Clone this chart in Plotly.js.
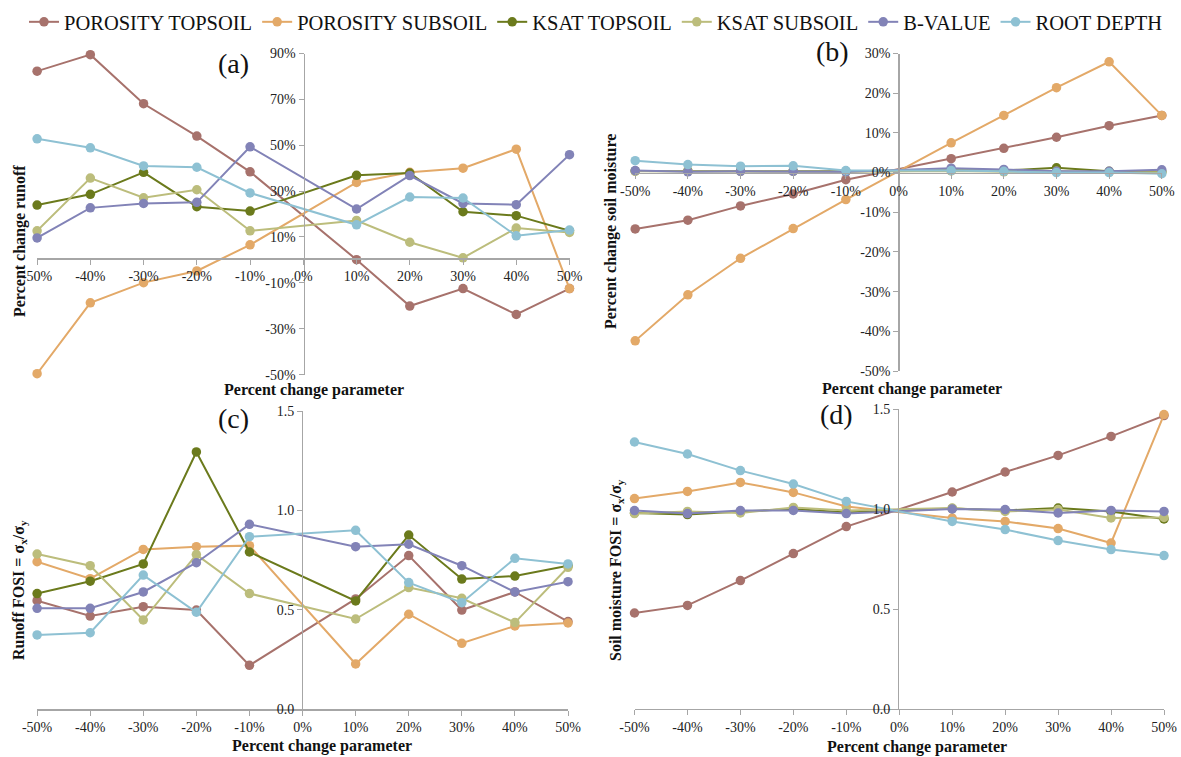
<!DOCTYPE html>
<html>
<head>
<meta charset="utf-8">
<script src="https://cdn.plot.ly/plotly-3.0.1.min.js"></script>
<style>html,body{margin:0;padding:0;background:#fff;}#chart{width:1181px;height:757px;}</style>
</head>
<body>
<div id="chart"></div>
<script>
// ---- data ----
const params = [-50, -40, -30, -20, -10, 10, 20, 30, 40, 50];
const seriesNames = ["POROSITY TOPSOIL", "POROSITY SUBSOIL", "KSAT TOPSOIL", "KSAT SUBSOIL", "B-VALUE", "ROOT DEPTH"];
const seriesColors = ["#A7726C", "#E3A968", "#6B7A1C", "#BCBD7C", "#8283B7", "#8EC1D3"];

// (a) percent change runoff
const runoffPorosityTop = [82.3, 89.5, 68.1, 54.0, 38.4, 0.1, -20.1, -12.5, -23.8, -12.5];
const runoffPorositySub = [-49.6, -18.7, -9.9, -4.8, 6.6, 33.8, 38.2, 40.0, 48.3, -12.5];
const runoffKsatTop = [23.9, 28.6, 38.2, 23.2, 21.3, 36.9, 37.9, 21.0, 19.3, 12.7];
const runoffKsatSub = [12.7, 35.7, 27.1, 30.6, 12.7, 17.2, 7.7, 0.9, 13.9, 12.0];
const runoffBValue = [9.6, 22.7, 24.6, 25.1, 49.3, 22.2, 36.8, 24.6, 24.1, 45.9];
const runoffRootDepth = [52.8, 48.9, 41.0, 40.4, 29.2, 15.3, 27.4, 27.0, 10.5, 13.0];

// (b) percent change soil moisture
const smPorosityTop = [-14.2, -12.0, -8.4, -5.4, -1.8, 3.5, 6.1, 8.9, 11.8, 14.4];
const smPorositySub = [-42.4, -30.8, -21.6, -14.1, -6.8, 7.5, 14.4, 21.4, 27.9, 14.4];
const smKsatTop = [0.4, 0.4, 0.4, 0.4, 0.3, 0.6, 0.5, 1.2, 0.3, 0.2];
const smKsatSub = [0.3, 0.3, 0.3, 0.3, 0.2, 0.4, 0.2, 0.3, 0.1, 0.1];
const smBValue = [0.5, 0.2, 0.3, 0.3, 0.2, 1.1, 0.8, 0.3, 0.3, 0.7];
const smRootDepth = [3.0, 2.0, 1.6, 1.7, 0.5, 0.5, 0.3, 0.0, 0.0, -0.3];

// (c) runoff FOSI
const rfPorosityTop = [0.546, 0.469, 0.516, 0.499, 0.221, 0.555, 0.773, 0.499, 0.590, 0.441];
const rfPorositySub = [0.742, 0.657, 0.804, 0.818, 0.823, 0.228, 0.478, 0.332, 0.419, 0.434];
const rfKsatTop = [0.582, 0.644, 0.731, 1.294, 0.791, 0.545, 0.876, 0.655, 0.670, 0.722];
const rfKsatSub = [0.781, 0.722, 0.449, 0.778, 0.582, 0.454, 0.612, 0.558, 0.436, 0.714];
const rfBValue = [0.508, 0.508, 0.590, 0.737, 0.930, 0.818, 0.830, 0.722, 0.590, 0.642];
const rfRootDepth = [0.374, 0.385, 0.675, 0.488, 0.868, 0.900, 0.637, 0.536, 0.759, 0.731];

// (d) soil moisture FOSI
const sfPorosityTop = [0.480, 0.518, 0.642, 0.777, 0.912, 1.085, 1.185, 1.268, 1.363, 1.467];
const sfPorositySub = [1.052, 1.088, 1.133, 1.083, 1.013, 0.955, 0.938, 0.902, 0.830, 1.472];
const sfKsatTop = [0.980, 0.972, 0.987, 1.000, 0.983, 1.002, 0.993, 1.005, 0.988, 0.950];
const sfKsatSub = [0.977, 0.988, 0.980, 1.008, 0.992, 1.005, 0.988, 0.997, 0.955, 0.958];
const sfBValue = [0.992, 0.977, 0.992, 0.993, 0.977, 1.000, 0.997, 0.980, 0.993, 0.988];
const sfRootDepth = [1.335, 1.275, 1.192, 1.125, 1.038, 0.938, 0.897, 0.842, 0.797, 0.767];

const xTickVals = [-50, -40, -30, -20, -10, 0, 10, 20, 30, 40, 50];
const xTickText = ["-50%", "-40%", "-30%", "-20%", "-10%", "0%", "10%", "20%", "30%", "40%", "50%"];
const aTickVals = [-50, -30, -10, 10, 30, 50, 70, 90];
const aTickText = ["-50%", "-30%", "-10%", "10%", "30%", "50%", "70%", "90%"];
const bTickVals = [-50, -40, -30, -20, -10, 0, 10, 20, 30];
const bTickText = ["-50%", "-40%", "-30%", "-20%", "-10%", "0%", "10%", "20%", "30%"];
const fosiTickVals = [0, 0.5, 1.0, 1.5];
const fosiTickText = ["0.0", "0.5", "1.0", "1.5"];

const panels = [
  {xa: "x", ya: "y", series: [runoffPorosityTop, runoffPorositySub, runoffKsatTop, runoffKsatSub, runoffBValue, runoffRootDepth], legend: true},
  {xa: "x2", ya: "y2", series: [smPorosityTop, smPorositySub, smKsatTop, smKsatSub, smBValue, smRootDepth], legend: false},
  {xa: "x3", ya: "y3", series: [rfPorosityTop, rfPorositySub, rfKsatTop, rfKsatSub, rfBValue, rfRootDepth], legend: false},
  {xa: "x4", ya: "y4", series: [sfPorosityTop, sfPorositySub, sfKsatTop, sfKsatSub, sfBValue, sfRootDepth], legend: false}
];

const traces = [];
panels.forEach(p => {
  p.series.forEach((vals, i) => {
    traces.push({
      type: "scatter", mode: "lines+markers",
      x: params, y: vals, xaxis: p.xa, yaxis: p.ya,
      name: seriesNames[i], legendgroup: seriesNames[i], showlegend: p.legend,
      line: {color: seriesColors[i], width: 2},
      marker: {color: seriesColors[i], size: 9.5},
      cliponaxis: false
    });
  });
});

const W = 1181, H = 757;
const px = v => v / W;
const py = v => 1 - v / H;
const serif = "Liberation Serif";
const tickFont = {family: serif, size: 14, color: "#222"};
const axColor = "#A6A6A6";

function xAxis(domain, pos, anchor) {
  const a = {
    domain: domain, range: [-50, 50], tickvals: xTickVals, ticktext: xTickText,
    showgrid: false, zeroline: false, showline: true, linecolor: axColor, linewidth: 1.3,
    ticks: "outside", ticklen: 5, tickcolor: axColor, tickfont: tickFont, fixedrange: true
  };
  if (pos === null) { a.anchor = anchor; } else { a.anchor = "free"; a.position = pos; }
  return a;
}
function yAxis(domain, range, tv, tt, pos) {
  return {
    domain: domain, range: range, tickvals: tv, ticktext: tt, anchor: "free", position: pos,
    showgrid: false, zeroline: false, showline: true, linecolor: axColor, linewidth: 1.3,
    ticks: "outside", ticklen: 5, tickcolor: axColor, tickfont: tickFont, fixedrange: true
  };
}

const layout = {
  width: W, height: H,
  font: {family: serif, size: 14, color: "#222"},
  margin: {l: 0, r: 0, t: 0, b: 0},
  paper_bgcolor: "#fff", plot_bgcolor: "rgba(0,0,0,0)",
  showlegend: true,
  legend: {orientation: "h", x: px(24), xanchor: "left", y: py(22), yanchor: "middle",
           font: {family: serif, size: 20.5, color: "#111"}, bgcolor: "rgba(0,0,0,0)", itemwidth: 30, tracegroupgap: 0},
  xaxis: xAxis([px(37.1), px(569.5)], py(258.2)),
  yaxis: yAxis([py(374.6), py(53.5)], [-50, 90], aTickVals, aTickText, px(303.5)),
  xaxis2: xAxis([px(635.2), px(1161.8)], py(172.6)),
  yaxis2: yAxis([py(371), py(53.5)], [-50, 30], bTickVals, bTickText, px(898.3)),
  xaxis3: xAxis([px(37.1), px(568)], null, "y3"),
  yaxis3: yAxis([py(709.3), py(411)], [0, 1.5], fosiTickVals, fosiTickText, px(302)),
  xaxis4: xAxis([px(634.5), px(1164)], null, "y4"),
  yaxis4: yAxis([py(709), py(409)], [0, 1.5], fosiTickVals, fosiTickText, px(898)),
  annotations: []
};

const titleFont = {family: serif, size: 16, color: "#111"};
const labelFont = {family: serif, size: 28, color: "#111"};
const ann = (x, y, text, font, angle) => ({
  xref: "paper", yref: "paper", x: px(x), y: py(y), text: text, showarrow: false,
  xanchor: "center", yanchor: "middle", font: font, textangle: angle || 0
});
layout.annotations.push(
  ann(314, 390, "<b>Percent change parameter</b>", titleFont),
  ann(912, 389, "<b>Percent change parameter</b>", titleFont),
  ann(322, 746, "<b>Percent change parameter</b>", titleFont),
  ann(917, 747, "<b>Percent change parameter</b>", titleFont),
  ann(20, 241, "<b>Percent change runoff</b>", titleFont, -90),
  ann(611, 232, "<b>Percent change soil moisture</b>", titleFont, -90),
  ann(19, 590, "<b>Runoff FOSI = σ<sub>x</sub>/σ<sub>y</sub></b>", titleFont, -90),
  ann(616, 570, "<b>Soil moisture FOSI = σ<sub>x</sub>/σ<sub>y</sub></b>", titleFont, -90),
  ann(233, 63, "(a)", labelFont),
  ann(832, 52, "(b)", labelFont),
  ann(233, 418, "(c)", labelFont),
  ann(836, 414, "(d)", labelFont)
);

Plotly.newPlot("chart", traces, layout, {displayModeBar: false, staticPlot: true});
</script>
</body>
</html>
